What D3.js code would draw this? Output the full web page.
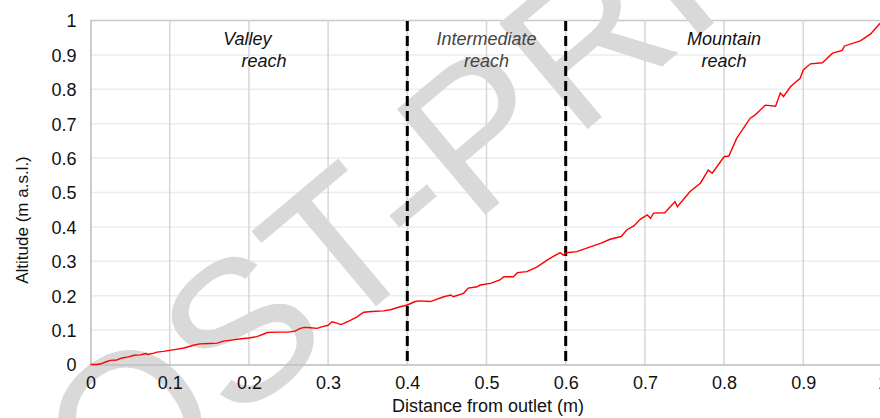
<!DOCTYPE html>
<html>
<head>
<meta charset="utf-8">
<script src="https://cdn.jsdelivr.net/npm/d3@7"></script>
<style>
  body { margin: 0; background: #fff; }
  text { font-family: "Liberation Sans", Arial, Helvetica, sans-serif; }
</style>
</head>
<body>
<script>
// longitudinal profile
var distance = [0, 0.008, 0.013, 0.02, 0.025, 0.033, 0.04, 0.048, 0.055, 0.063, 0.07, 0.072, 0.08, 0.084,
  0.092, 0.1, 0.108, 0.118, 0.13, 0.138, 0.15, 0.16, 0.168, 0.178, 0.19, 0.2, 0.21, 0.218, 0.223,
  0.235, 0.25, 0.258, 0.265, 0.27, 0.278, 0.286, 0.293, 0.3, 0.305, 0.31, 0.316, 0.322, 0.328,
  0.336, 0.345, 0.355, 0.37, 0.38,
  0.391, 0.4, 0.41, 0.416, 0.429, 0.446, 0.455, 0.458, 0.471, 0.477, 0.488, 0.492, 0.505, 0.517,
  0.522, 0.534, 0.539, 0.551, 0.564, 0.577, 0.585, 0.593, 0.597, 0.601, 0.614, 0.631, 0.644, 0.656,
  0.67, 0.677, 0.686, 0.694, 0.703, 0.707, 0.711, 0.725, 0.738, 0.741, 0.757, 0.77, 0.78, 0.785,
  0.8, 0.806, 0.816, 0.833, 0.839, 0.852, 0.865, 0.871, 0.875, 0.884, 0.896, 0.9, 0.909, 0.924,
  0.937, 0.949, 0.952, 0.972, 0.985, 1.0];
var altitude = [0, 0, 0.002, 0.008, 0.012, 0.013, 0.019, 0.022, 0.027, 0.028, 0.032, 0.029, 0.033, 0.036,
  0.038, 0.041, 0.044, 0.048, 0.056, 0.06, 0.061, 0.062, 0.068, 0.071, 0.075, 0.077, 0.081, 0.088, 0.093,
  0.094, 0.094, 0.097, 0.105, 0.108, 0.107, 0.105, 0.11, 0.114, 0.124, 0.121, 0.116, 0.122, 0.128,
  0.138, 0.152, 0.154, 0.156, 0.16,
  0.168, 0.173, 0.183, 0.185, 0.183, 0.197, 0.202, 0.197, 0.207, 0.222, 0.226, 0.231, 0.236, 0.246,
  0.255, 0.255, 0.267, 0.27, 0.284, 0.304, 0.315, 0.325, 0.318, 0.325, 0.328, 0.342, 0.352, 0.364,
  0.372, 0.391, 0.403, 0.422, 0.435, 0.425, 0.44, 0.441, 0.473, 0.459, 0.503, 0.527, 0.565, 0.556,
  0.604, 0.606, 0.658, 0.716, 0.725, 0.754, 0.751, 0.789, 0.779, 0.808, 0.832, 0.856, 0.874, 0.877,
  0.905, 0.913, 0.926, 0.941, 0.961, 1.0];

var tickValues = [0, 0.1, 0.2, 0.3, 0.4, 0.5, 0.6, 0.7, 0.8, 0.9, 1];
var tickLabels = ["0", "0.1", "0.2", "0.3", "0.4", "0.5", "0.6", "0.7", "0.8", "0.9", "1"];
var reachBounds = [0.4, 0.6];
var reachText = ["Valley", "reach", "Intermediate", "reach", "Mountain", "reach"];
var reachTextX = [0.198, 0.219, 0.5, 0.5, 0.8, 0.8];
var reachTextY = [0.929, 0.865, 0.929, 0.865, 0.929, 0.865];

function drawProfile(width, height) {
    var svg = d3.select("body").append("svg")
        .attr("width", width)
        .attr("height", height);

    var x = d3.scaleLinear().domain([0, 1]).range([90.5, 882.5]);
    var y = d3.scaleLinear().domain([0, 1]).range([364.5, 20.5]);

    // grid
    svg.append("g").selectAll("line")
        .data(tickValues.slice(1))
        .enter().append("line")
        .attr("x1", 90).attr("x2", 883)
        .attr("y1", function(d) { return y(d); })
        .attr("y2", function(d) { return y(d); })
        .attr("stroke", function(d) { return d === 1 ? "#c8c8c8" : "#ececec"; })
        .attr("stroke-width", 1.5);

    svg.append("g").selectAll("line")
        .data(tickValues.slice(1))
        .enter().append("line")
        .attr("x1", function(d) { return x(d); })
        .attr("x2", function(d) { return x(d); })
        .attr("y1", 20).attr("y2", 365)
        .attr("stroke", "#d6d6d6")
        .attr("stroke-width", 1.5);

    // watermark
    svg.append("text")
        .text("POST-PRINT")
        .attr("transform", "translate(13,611) rotate(-40)")
        .attr("font-size", 200)
        .attr("fill", "#d9d9d9");

    // axes
    var xAxis = d3.axisBottom(x).tickValues(tickValues)
        .tickFormat(function(d, i) { return tickLabels[i]; })
        .tickSize(0).tickPadding(12);
    var yAxis = d3.axisLeft(y).tickValues(tickValues)
        .tickFormat(function(d, i) { return tickLabels[i]; })
        .tickSize(0).tickPadding(14);

    var gx = svg.append("g").attr("transform", "translate(0,364.5)").call(xAxis);
    var gy = svg.append("g").attr("transform", "translate(90.5,0)").call(yAxis);
    [gx, gy].forEach(function(g) {
        g.select(".domain").attr("stroke", "#bdbdbd").attr("stroke-width", 1.5);
        g.selectAll("text")
            .attr("font-family", "'Liberation Sans', Arial, sans-serif")
            .attr("font-size", 18)
            .attr("fill", "#111");
    });
    gy.selectAll("text").attr("dy", "0.36em");

    // reach boundaries
    svg.append("g").selectAll("line")
        .data(reachBounds)
        .enter().append("line")
        .attr("x1", function(d) { return x(d); })
        .attr("x2", function(d) { return x(d); })
        .attr("y1", 21).attr("y2", 364)
        .attr("stroke", "#000")
        .attr("stroke-width", 3)
        .attr("stroke-dasharray", "10,5");

    // profile line
    var line = d3.line()
        .x(function(d, i) { return x(distance[i]); })
        .y(function(d) { return y(d); });
    svg.append("path")
        .datum(altitude)
        .attr("d", line)
        .attr("fill", "none")
        .attr("stroke", "#ff0000")
        .attr("stroke-width", 1.4);

    // reach labels
    svg.append("g").selectAll("text")
        .data(reachText)
        .enter().append("text")
        .text(function(d) { return d; })
        .attr("x", function(d, i) { return x(reachTextX[i]); })
        .attr("y", function(d, i) { return y(reachTextY[i]); })
        .attr("text-anchor", "middle")
        .attr("font-style", "italic")
        .attr("font-size", 18)
        .attr("fill", function(d, i) { return (i === 2 || i === 3) ? "#444" : "#111"; });

    // axis titles
    svg.append("text")
        .text("Distance from outlet (m)")
        .attr("x", 488).attr("y", 412)
        .attr("text-anchor", "middle")
        .attr("font-size", 18)
        .attr("fill", "#111");

    svg.append("text")
        .text("Altitude (m a.s.l.)")
        .attr("transform", "translate(28,220) rotate(-90)")
        .attr("text-anchor", "middle")
        .attr("font-size", 17)
        .attr("fill", "#111");
}

var width = 880;
var height = 418;

document.addEventListener("DOMContentLoaded", drawProfile(width, height));
</script>
</body>
</html>
